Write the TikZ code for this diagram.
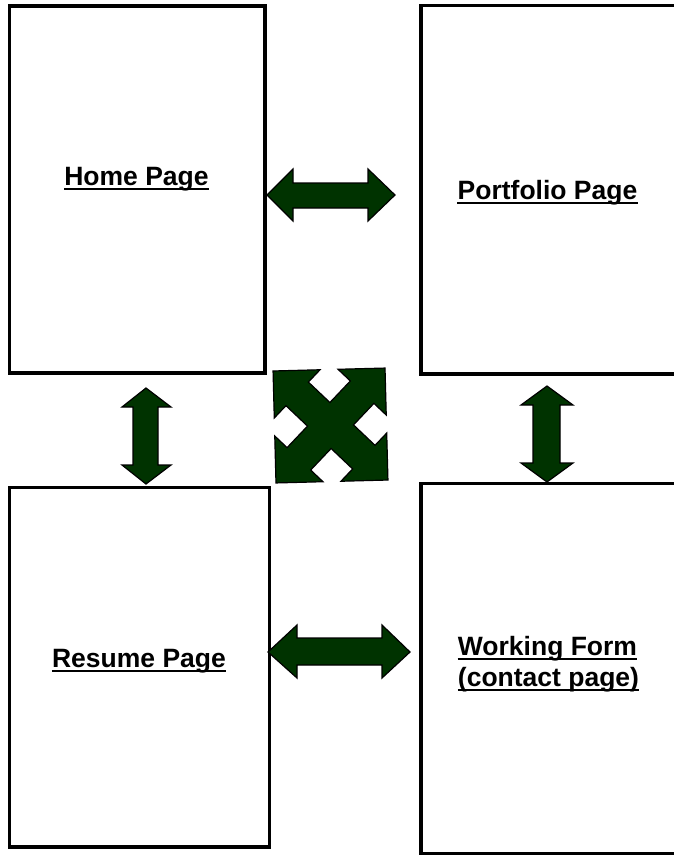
\documentclass[tikz,border=0pt]{standalone}
\usepackage{fontspec}
\setmainfont{Liberation Sans}
\definecolor{arrowgreen}{RGB}{0,51,0}
\begin{document}
\begin{tikzpicture}[x=1pt,y=-1pt,
  pagebox/.style={draw=black, line width=3.5pt, fill=white, inner sep=0pt},
  pagetext/.style={inner sep=0pt, anchor=base, font=\fontsize{26.5}{31}\selectfont\bfseries},
  uline/.style={line width=2pt, black},
  blockarrow/.style={fill=arrowgreen, draw=black, line width=1.2pt, line join=miter}]
\useasboundingbox (0,0) rectangle (674,855);
\clip (0,0) rectangle (674,855);
\fill[white] (0,0) rectangle (674,855);

% page boxes
\node[pagebox, minimum width=255.5pt, minimum height=367pt] (home) at (137.25,189.5) {};
\node[pagebox, minimum width=259pt, minimum height=368.5pt] (portfolio) at (550.5,189.75) {};
\node[pagebox, minimum width=260pt, minimum height=359.5pt] (resume) at (139.5,667.25) {};
\node[pagebox, minimum width=259pt, minimum height=370.5pt] (work) at (550.5,668.75) {};

% texts
\node[pagetext] (homet) at (136.5,185.5) {Home Page};
\node[pagetext] (portt) at (547.5,199.5) {Portfolio Page};
\node[pagetext] (rest) at (139,667.5) {Resume Page};
\node[pagetext] (workt1) at (547.5,655.5) {Working Form};
\node[pagetext] (workt2) at (548.5,686.5) {(contact page)};
\foreach \n in {homet,portt,rest,workt1,workt2}
  \draw[uline] ([yshift=-3.5pt]\n.base west) -- ([yshift=-3.5pt]\n.base east);

% horizontal double arrows
\draw[blockarrow] (267,195) -- (293,169) -- (293,183) -- (368,183) -- (368,169) -- (395,195)
  -- (368,221) -- (368,208) -- (293,208) -- (293,221) -- cycle;
\draw[blockarrow] (268,652) -- (297,625) -- (297,638) -- (382,638) -- (382,625) -- (410,652)
  -- (382,678) -- (382,665) -- (297,665) -- (297,678) -- cycle;

% vertical double arrows
\draw[blockarrow] (146,388) -- (171,407) -- (158,407) -- (158,465) -- (171,465) -- (146,484)
  -- (122,465) -- (133,465) -- (133,407) -- (122,407) -- cycle;
\draw[blockarrow] (547,386) -- (573,405) -- (560,405) -- (560,463) -- (573,463) -- (547,482)
  -- (521,463) -- (533,463) -- (533,405) -- (521,405) -- cycle;

% four-way diagonal arrow
\begin{scope}[shift={(330.5,425.5)}, rotate=1.5]
\draw[blockarrow] (-56,-56) -- (-9,-56) -- (-21,-44) -- (0,-23) -- (21,-44) -- (9,-56)
  -- (56,-56) -- (56,-9) -- (44,-21) -- (23,0) -- (44,21) -- (56,9)
  -- (56,56) -- (9,56) -- (21,44) -- (0,23) -- (-21,44) -- (-9,56)
  -- (-56,56) -- (-56,9) -- (-44,21) -- (-23,0) -- (-44,-21) -- (-56,-9) -- cycle;
\end{scope}
\end{tikzpicture}
\end{document}
